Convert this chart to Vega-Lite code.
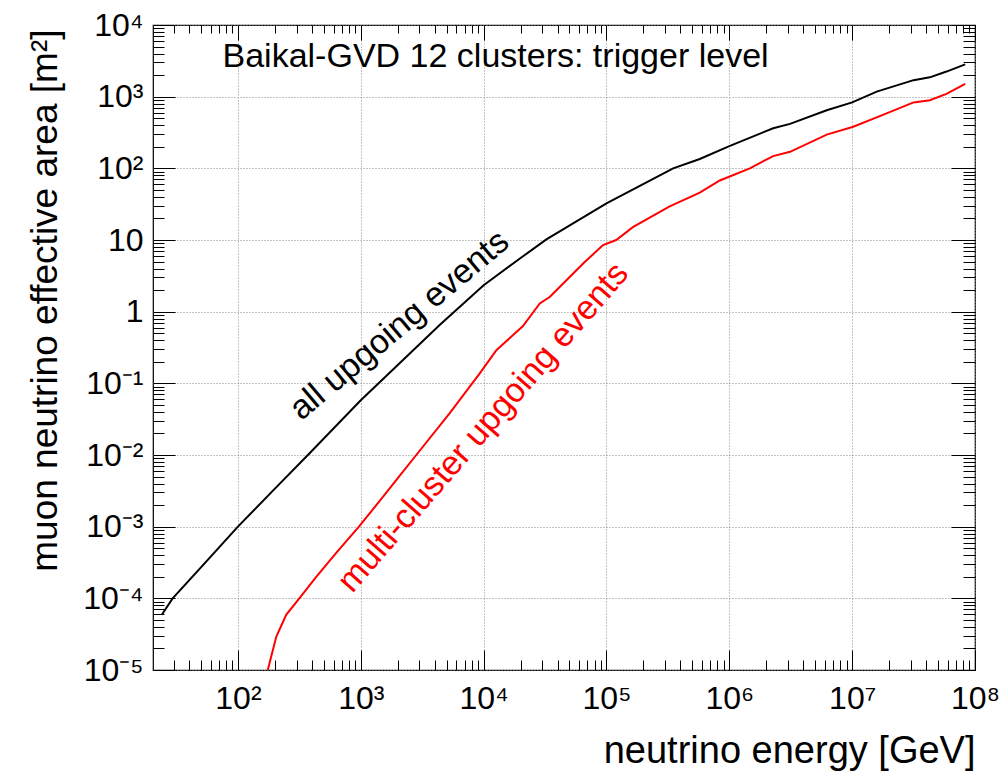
{
  "$schema": "https://vega.github.io/schema/vega-lite/v6.json",
  "width": 822,
  "height": 645,
  "autosize": "none",
  "padding": {"left": 153, "top": 25, "right": 33, "bottom": 108},
  "background": "white",
  "config": {
    "view": {"stroke": "#000", "strokeWidth": 1.2},
    "font": "Liberation Sans",
    "axis": {"labelFont": "Liberation Sans", "titleFont": "Liberation Sans", "labelColor": "#000", "titleColor": "#000", "titleFontWeight": "normal", "labelOverlap": false, "labelFlush": false, "labelBound": false, "domain": false, "tickColor": "#000", "tickWidth": 1}
  },
  "datasets": {
    "curves": [
      {"series": "all", "E": 24, "A": 0.000059},
      {"series": "all", "E": 29.4, "A": 0.0001},
      {"series": "all", "E": 50, "A": 0.00027},
      {"series": "all", "E": 100, "A": 0.001},
      {"series": "all", "E": 200, "A": 0.0034},
      {"series": "all", "E": 371, "A": 0.01},
      {"series": "all", "E": 1000, "A": 0.058},
      {"series": "all", "E": 2000, "A": 0.18},
      {"series": "all", "E": 4385, "A": 0.65},
      {"series": "all", "E": 10000, "A": 2.34},
      {"series": "all", "E": 20000, "A": 5.6},
      {"series": "all", "E": 32430, "A": 10.2},
      {"series": "all", "E": 100000, "A": 32.4},
      {"series": "all", "E": 349000, "A": 100},
      {"series": "all", "E": 575000, "A": 135},
      {"series": "all", "E": 1000000, "A": 204},
      {"series": "all", "E": 2275000, "A": 363},
      {"series": "all", "E": 3120000, "A": 417},
      {"series": "all", "E": 6210000, "A": 646},
      {"series": "all", "E": 10000000, "A": 832},
      {"series": "all", "E": 15850000, "A": 1175},
      {"series": "all", "E": 31600000, "A": 1700},
      {"series": "all", "E": 42900000, "A": 1860},
      {"series": "all", "E": 58600000, "A": 2240},
      {"series": "all", "E": 83200000, "A": 2820},
      {"series": "multi", "E": 175, "A": 0.00001},
      {"series": "multi", "E": 205, "A": 0.000029},
      {"series": "multi", "E": 247, "A": 0.000059},
      {"series": "multi", "E": 316, "A": 0.0001},
      {"series": "multi", "E": 434, "A": 0.0002},
      {"series": "multi", "E": 631, "A": 0.00043},
      {"series": "multi", "E": 966, "A": 0.001},
      {"series": "multi", "E": 1514, "A": 0.0026},
      {"series": "multi", "E": 2070, "A": 0.0051},
      {"series": "multi", "E": 2830, "A": 0.01},
      {"series": "multi", "E": 5280, "A": 0.038},
      {"series": "multi", "E": 9270, "A": 0.137},
      {"series": "multi", "E": 12700, "A": 0.29},
      {"series": "multi", "E": 20900, "A": 0.63},
      {"series": "multi", "E": 28640, "A": 1.3},
      {"series": "multi", "E": 34500, "A": 1.6},
      {"series": "multi", "E": 64600, "A": 4.7},
      {"series": "multi", "E": 93800, "A": 8.5},
      {"series": "multi", "E": 120000, "A": 10},
      {"series": "multi", "E": 164000, "A": 15.1},
      {"series": "multi", "E": 327000, "A": 29.5},
      {"series": "multi", "E": 575000, "A": 45.7},
      {"series": "multi", "E": 837000, "A": 67.6},
      {"series": "multi", "E": 1470000, "A": 100},
      {"series": "multi", "E": 2275000, "A": 148},
      {"series": "multi", "E": 3120000, "A": 170},
      {"series": "multi", "E": 6210000, "A": 295},
      {"series": "multi", "E": 10200000, "A": 380},
      {"series": "multi", "E": 18000000, "A": 562},
      {"series": "multi", "E": 31600000, "A": 832},
      {"series": "multi", "E": 42900000, "A": 891},
      {"series": "multi", "E": 58600000, "A": 1096},
      {"series": "multi", "E": 83200000, "A": 1514}
    ],
    "labels": [
      {"key": "head", "E": 74.9, "A": 2588, "label": "Baikal-GVD 12 clusters: trigger level"},
      {"key": "all", "E": 2339, "A": 0.5, "label": "all upgoing events"},
      {"key": "multi", "E": 11500, "A": 0.0195, "label": "multi-cluster upgoing events"}
    ]
  },
  "resolve": {"axis": {"x": "independent", "y": "independent"}},
  "layer": [
    {
      "data": {"name": "curves"},
      "transform": [{"filter": "datum.series == 'all'"}],
      "mark": {"type": "line", "strokeWidth": 2, "clip": true, "color": "#000"},
      "encoding": {
        "x": {"field": "E", "type": "quantitative",
          "scale": {"type": "log", "domain": [20.35, 100000000], "nice": false},
          "axis": {"orient": "bottom",
            "values": [30,40,50,60,70,80,90,100,200,300,400,500,600,700,800,900,1000,2000,3000,4000,5000,6000,7000,8000,9000,10000,20000,30000,40000,50000,60000,70000,80000,90000,100000,200000,300000,400000,500000,600000,700000,800000,900000,1000000,2000000,3000000,4000000,5000000,6000000,7000000,8000000,9000000,10000000,20000000,30000000,40000000,50000000,60000000,70000000,80000000,90000000,100000000],
            "labelExpr": "abs(log(datum.value)/LN10 - round(log(datum.value)/LN10)) > 0.01 ? '' : (round(log(datum.value)/LN10) == 2 ? '10²' : round(log(datum.value)/LN10) == 3 ? '10³' : round(log(datum.value)/LN10) == 4 ? '10⁴' : round(log(datum.value)/LN10) == 5 ? '10⁵' : round(log(datum.value)/LN10) == 6 ? '10⁶' : round(log(datum.value)/LN10) == 7 ? '10⁷' : '10⁸')",
            "grid": true, "gridColor": "#888", "gridDash": [1, 2], "gridWidth": 1,
            "gridOpacity": {"condition": {"test": "abs(log(datum.value)/LN10 - round(log(datum.value)/LN10)) < 0.01", "value": 1}, "value": 0},
            "tickSize": {"condition": {"test": "abs(log(datum.value)/LN10 - round(log(datum.value)/LN10)) < 0.01", "value": -20}, "value": -10},
            "labelFontSize": 32, "labelPadding": 33,
            "title": "neutrino energy [GeV]", "titleFontSize": 38, "titleAnchor": "end", "titleAlign": "right", "titleBaseline": "alphabetic", "titleX": 822, "titleY": 92}
        },
        "y": {"field": "A", "type": "quantitative",
          "scale": {"type": "log", "domain": [0.00001, 10000], "nice": false},
          "axis": {"orient": "left",
            "values": [0.00001,0.00002,0.00003,0.00004,0.00005,0.00006,0.00007,0.00008,0.00009,0.0001,0.0002,0.0003,0.0004,0.0005,0.0006,0.0007,0.0008,0.0009,0.001,0.002,0.003,0.004,0.005,0.006,0.007,0.008,0.009,0.01,0.02,0.03,0.04,0.05,0.06,0.07,0.08,0.09,0.1,0.2,0.3,0.4,0.5,0.6,0.7,0.8,0.9,1,2,3,4,5,6,7,8,9,10,20,30,40,50,60,70,80,90,100,200,300,400,500,600,700,800,900,1000,2000,3000,4000,5000,6000,7000,8000,9000,10000],
            "labelExpr": "abs(log(datum.value)/LN10 - round(log(datum.value)/LN10)) > 0.01 ? '' : (round(log(datum.value)/LN10) == 0 ? '1' : round(log(datum.value)/LN10) == 1 ? '10' : round(log(datum.value)/LN10) == 2 ? '10²' : round(log(datum.value)/LN10) == 3 ? '10³' : round(log(datum.value)/LN10) == 4 ? '10⁴' : round(log(datum.value)/LN10) == -1 ? '10⁻¹' : round(log(datum.value)/LN10) == -2 ? '10⁻²' : round(log(datum.value)/LN10) == -3 ? '10⁻³' : round(log(datum.value)/LN10) == -4 ? '10⁻⁴' : '10⁻⁵')",
            "grid": true, "gridColor": "#888", "gridDash": [1, 2], "gridWidth": 1,
            "gridOpacity": {"condition": {"test": "abs(log(datum.value)/LN10 - round(log(datum.value)/LN10)) < 0.01", "value": 1}, "value": 0},
            "tickSize": {"condition": {"test": "abs(log(datum.value)/LN10 - round(log(datum.value)/LN10)) < 0.01", "value": -22}, "value": -11},
            "labelFontSize": 32, "labelPadding": 32, "labelBaseline": "middle",
            "title": "muon neutrino effective area [m²]", "titleFontSize": 37, "titleAngle": -90, "titleAnchor": "end", "titleAlign": "right", "titleBaseline": "middle", "titleX": -108, "titleY": 4}
        }
      }
    },
    {
      "data": {"name": "curves"},
      "transform": [{"filter": "datum.series == 'multi'"}],
      "mark": {"type": "line", "strokeWidth": 2, "clip": true, "color": "#ff0000"},
      "encoding": {
        "x": {"field": "E", "type": "quantitative",
          "axis": {"orient": "top",
            "values": [30,40,50,60,70,80,90,100,200,300,400,500,600,700,800,900,1000,2000,3000,4000,5000,6000,7000,8000,9000,10000,20000,30000,40000,50000,60000,70000,80000,90000,100000,200000,300000,400000,500000,600000,700000,800000,900000,1000000,2000000,3000000,4000000,5000000,6000000,7000000,8000000,9000000,10000000,20000000,30000000,40000000,50000000,60000000,70000000,80000000,90000000,100000000],
            "labels": false, "grid": false, "title": null,
            "tickSize": {"condition": {"test": "abs(log(datum.value)/LN10 - round(log(datum.value)/LN10)) < 0.01", "value": -15}, "value": -8}}
        },
        "y": {"field": "A", "type": "quantitative",
          "axis": {"orient": "right",
            "values": [0.00001,0.00002,0.00003,0.00004,0.00005,0.00006,0.00007,0.00008,0.00009,0.0001,0.0002,0.0003,0.0004,0.0005,0.0006,0.0007,0.0008,0.0009,0.001,0.002,0.003,0.004,0.005,0.006,0.007,0.008,0.009,0.01,0.02,0.03,0.04,0.05,0.06,0.07,0.08,0.09,0.1,0.2,0.3,0.4,0.5,0.6,0.7,0.8,0.9,1,2,3,4,5,6,7,8,9,10,20,30,40,50,60,70,80,90,100,200,300,400,500,600,700,800,900,1000,2000,3000,4000,5000,6000,7000,8000,9000,10000],
            "labels": false, "grid": false, "title": null,
            "tickSize": {"condition": {"test": "abs(log(datum.value)/LN10 - round(log(datum.value)/LN10)) < 0.01", "value": -24}, "value": -12}}
        }
      }
    },
    {
      "data": {"name": "labels"},
      "transform": [{"filter": "datum.key == 'head'"}],
      "mark": {"type": "text", "align": "left", "baseline": "alphabetic", "fontSize": 34, "color": "#000", "font": "Liberation Sans"},
      "encoding": {
        "x": {"field": "E", "type": "quantitative", "axis": null},
        "y": {"field": "A", "type": "quantitative", "axis": null},
        "text": {"field": "label"}
      }
    },
    {
      "data": {"name": "labels"},
      "transform": [{"filter": "datum.key == 'all'"}],
      "mark": {"type": "text", "align": "center", "baseline": "alphabetic", "fontSize": 34, "angle": -40, "color": "#000", "font": "Liberation Sans"},
      "encoding": {
        "x": {"field": "E", "type": "quantitative", "axis": null},
        "y": {"field": "A", "type": "quantitative", "axis": null},
        "text": {"field": "label"}
      }
    },
    {
      "data": {"name": "labels"},
      "transform": [{"filter": "datum.key == 'multi'"}],
      "mark": {"type": "text", "align": "center", "baseline": "alphabetic", "fontSize": 34, "angle": -49, "color": "#ff0000", "font": "Liberation Sans"},
      "encoding": {
        "x": {"field": "E", "type": "quantitative", "axis": null},
        "y": {"field": "A", "type": "quantitative", "axis": null},
        "text": {"field": "label"}
      }
    }
  ]
}
